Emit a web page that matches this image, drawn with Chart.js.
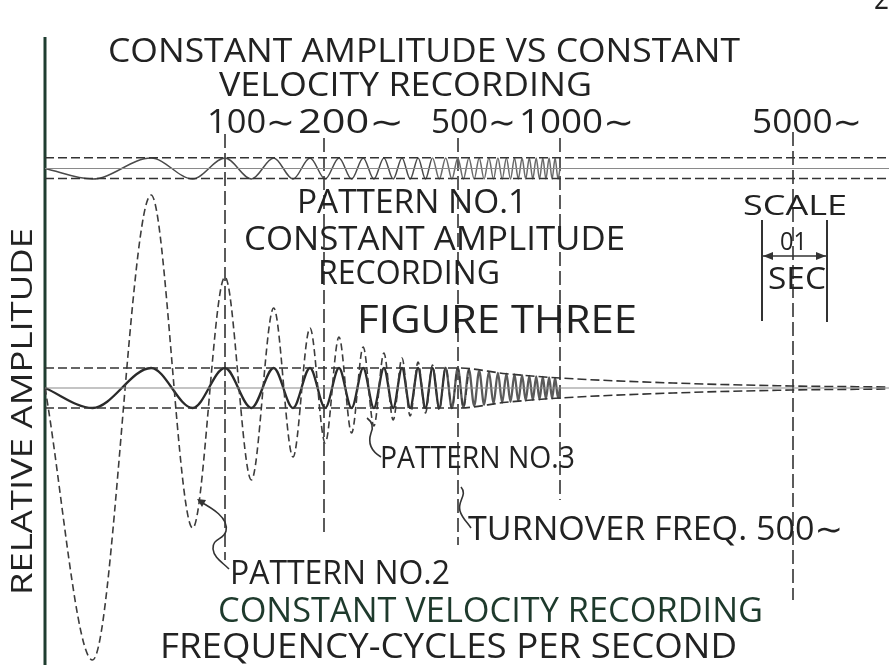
<!DOCTYPE html>
<html>
<head>
<meta charset="utf-8">
<script src="https://cdn.jsdelivr.net/npm/chart.js@4.4.1/dist/chart.umd.min.js"></script>
<style>
body { margin: 0; background: #fff; }
#wrap { width: 889px; height: 665px; }
</style>
</head>
<body>
<div id="wrap"><canvas id="chart1" width="889" height="665"></canvas></div>
<script>
// frequency marks along the sweep
var freqLabels = ["100∼", "200∼", "500∼", "1000∼", "5000∼"];
var markTimes = [225, 324, 458, 560, 793];

// peaks and troughs of the sweep (first one is a trough)
var sweepTimes = [
    92.5, 151.1, 192.7, 225, 251.4, 273.7, 293.0, 310.0, 325.2, 339.0,
    351.6, 363.2, 373.9, 383.9, 393.2, 402.0, 410.2, 418.1, 425.5, 432.5,
    439.3, 445.7, 451.9, 457.8, 463.4, 468.9, 474.2, 479.2, 484.1, 488.9,
    493.5, 497.9, 502.2, 506.4, 510.5, 514.5, 518.3, 522.1, 525.7, 529.3,
    532.8, 536.2, 539.5, 542.8, 545.9, 549.1, 552.1, 555.1, 558.0
];
// pattern 1 - constant amplitude
var ampPattern1 = 10.5;
// pattern 3 - constant amplitude up to the turnover, then falling off
var ampPattern3 = [
    20, 20, 20, 20, 20, 20, 20, 20, 20, 20,
    20, 20, 20, 20, 20, 20, 20, 20, 20, 20,
    20, 20, 20, 20, 19.2, 18.5, 17.9, 17.2, 16.7, 16.1,
    15.6, 15.2, 14.7, 14.3, 13.9, 13.5, 13.2, 12.8, 12.5, 12.2,
    11.9, 11.6, 11.4, 11.1, 10.9, 10.6, 10.4, 10.2, 10.0
];
// pattern 2 - constant velocity
var ampPattern2 = [
    272, 193, 140, 111, 92, 80, 69, 60, 55, 51,
    45, 41, 38, 35, 32, 30, 28, 26, 25, 23,
    22, 21, 20.5, 20, 19.2, 18.5
];
// envelope of pattern 3 above the turnover
var envTimes = [458, 506, 560, 673, 793, 889];
var envAmps = [20, 14.3, 10, 5, 2, 1];
// .01 sec scale
var scaleTimes = [762, 827];

// layout
var startT = 45;
var endT = 889;
var base1 = 168.5;
var base2 = 388;
var markTop = [134, 138, 138, 138, 132];
var markBottom = [560, 535, 545, 500, 600];
var labelSpan = [[207, 295], [298, 404], [431, 516], [519, 634], [752, 862]];

function wave(base, amps, count, end) {
    var pts = [{x: startT, y: base}];
    for (var i = 0; i < count; i++) {
        var a = Array.isArray(amps) ? amps[i] : amps;
        pts.push({x: sweepTimes[i], y: i % 2 == 0 ? base + a : base - a});
    }
    if (end) pts.push({x: end, y: base});
    return pts;
}
function hline(y, x0, x1) {
    return [{x: x0, y: y}, {x: x1, y: y}];
}
function vline(x, y0, y1) {
    return [{x: x, y: y0}, {x: x, y: y1}];
}
function envelope(sign) {
    var pts = [{x: startT, y: base2 + sign * envAmps[0]}];
    for (var i = 0; i < envTimes.length; i++) {
        pts.push({x: envTimes[i], y: base2 + sign * envAmps[i]});
    }
    return pts;
}
function ds(data, color, width, dash, smooth) {
    return {
        data: data,
        borderColor: color,
        borderWidth: width,
        borderDash: dash || [],
        cubicInterpolationMode: smooth ? "monotone" : "default",
        tension: 0,
        pointRadius: 0,
        fill: false
    };
}
// the dense part of the traces prints lighter
function fade(dark, light, from) {
    return {
        borderColor: function(c) {
            return c.p0.parsed.x > from ? light : dark;
        }
    };
}

var trace1 = ds(wave(base1, ampPattern1, sweepTimes.length, 560), "#505050", 1.5, null, true);
trace1.segment = fade("#4a4a4a", "#6a6a6a", 430);
var trace3 = ds(wave(base2, ampPattern3, sweepTimes.length, 560), "#2a2a2a", 2.3, null, true);
trace3.segment = fade("#2a2a2a", "#5a5a5a", 445);

var datasets = [
    ds(hline(base1, startT, endT), "#8a8a8a", 1.2),
    ds(hline(base1 - 10.8, startT, endT), "#333", 1.5, [9, 4]),
    ds(hline(base1 + 10, startT, endT), "#333", 1.5, [9, 4]),
    ds(hline(base2, startT, endT), "#8a8a8a", 1.2),
    ds(envelope(-1), "#333", 1.6, [9, 4], true),
    ds(envelope(1), "#333", 1.6, [9, 4], true),
    trace1,
    ds(wave(base2, ampPattern2, ampPattern2.length), "#3c3c3c", 1.6, [7, 4], true),
    trace3
];
for (var m = 0; m < markTimes.length; m++) {
    datasets.push(ds(vline(markTimes[m], markTop[m], markBottom[m]), "#333", 1.6, [14, 5]));
}
datasets.push(ds(vline(scaleTimes[0], 220, 321), "#333", 2));
datasets.push(ds(vline(scaleTimes[1], 220, 322), "#333", 2));
datasets.push(ds(hline(256, scaleTimes[0], scaleTimes[1]), "#333", 1.5));
datasets.push(ds(vline(startT, 37, 665), "#1f3d30", 3));

var texts = [
    ["CONSTANT AMPLITUDE VS CONSTANT", 108, 740, 62, 24],
    ["VELOCITY RECORDING", 219, 592, 96, 24],
    ["PATTERN NO.1", 297, 527, 213, 23],
    ["CONSTANT AMPLITUDE", 244, 625, 250, 24],
    ["RECORDING", 318, 500, 284, 24],
    ["FIGURE THREE", 357, 637, 333, 28],
    ["SCALE", 743, 847, 215, 20],
    ["01", 780, 807, 250, 18],
    ["SEC", 768, 826, 289, 22],
    ["PATTERN NO.3", 380, 575, 468, 22],
    ["TURNOVER FREQ. 500∼", 468, 843, 540, 23],
    ["PATTERN NO.2", 230, 450, 584, 23],
    ["CONSTANT VELOCITY RECORDING", 218, 763, 622, 25, "#1e3a2c"],
    ["FREQUENCY-CYCLES PER SECOND", 160, 737, 658, 25],
    ["2", 874, 889, 9, 22]
];

function letter(ctx, text, x0, x1, base, cap, color) {
    ctx.font = "400 " + (cap / 0.72) + "px 'Open Sans', 'DejaVu Sans', sans-serif";
    var w = ctx.measureText(text).width;
    ctx.save();
    ctx.translate(x0, base);
    ctx.scale((x1 - x0) / w, 1);
    ctx.fillStyle = color || "#222";
    ctx.fillText(text, 0, 0);
    ctx.restore();
}

var lettering = {
    id: "lettering",
    beforeDraw: function(chart) {
        var ctx = chart.ctx;
        ctx.save();
        ctx.fillStyle = "#fff";
        ctx.fillRect(0, 0, chart.width, chart.height);
        ctx.restore();
    },
    afterDraw: function(chart) {
        var ctx = chart.ctx;
        var xs = chart.scales.x;
        ctx.save();
        for (var i = 0; i < texts.length; i++) {
            var t = texts[i];
            letter(ctx, t[0], t[1], t[2], t[3], t[4], t[5]);
        }
        for (var j = 0; j < freqLabels.length; j++) {
            letter(ctx, freqLabels[j], labelSpan[j][0], labelSpan[j][1], 133, 23);
        }
        // side title
        ctx.save();
        ctx.translate(32, 595);
        ctx.rotate(-Math.PI / 2);
        letter(ctx, "RELATIVE AMPLITUDE", 0, 367, 0, 21);
        ctx.restore();

        // scale arrowheads
        var a0 = xs.getPixelForValue(scaleTimes[0]) + 1;
        var a1 = xs.getPixelForValue(scaleTimes[1]) - 1;
        ctx.fillStyle = "#333";
        ctx.beginPath();
        ctx.moveTo(a0, 256); ctx.lineTo(a0 + 10, 252); ctx.lineTo(a0 + 10, 260); ctx.closePath();
        ctx.moveTo(a1, 256); ctx.lineTo(a1 - 10, 252); ctx.lineTo(a1 - 10, 260); ctx.closePath();
        ctx.fill();

        // leader hooks
        ctx.strokeStyle = "#333";
        ctx.lineWidth = 1.6;
        ctx.beginPath();
        ctx.moveTo(199, 501);
        ctx.bezierCurveTo(212, 508, 229, 518, 226, 531);
        ctx.bezierCurveTo(224, 540, 212, 538, 213, 549);
        ctx.bezierCurveTo(214, 558, 222, 562, 229, 569);
        ctx.stroke();
        ctx.beginPath();
        ctx.moveTo(197, 499); ctx.lineTo(206, 500); ctx.lineTo(202, 507); ctx.closePath();
        ctx.fill();

        ctx.beginPath();
        ctx.moveTo(381, 457);
        ctx.quadraticCurveTo(366, 448, 371, 433);
        ctx.quadraticCurveTo(375, 424, 367, 418);
        ctx.stroke();

        ctx.beginPath();
        ctx.moveTo(461, 487);
        ctx.bezierCurveTo(468, 495, 457, 501, 460, 511);
        ctx.bezierCurveTo(462, 518, 467, 522, 471, 528);
        ctx.stroke();
        ctx.restore();
    }
};

new Chart("chart1", {
    type: "line",
    data: {
        datasets: datasets
    },
    options: {
        responsive: false,
        animation: false,
        layout: {
            padding: 0
        },
        plugins: {
            legend: {
                display: false
            },
            tooltip: {
                enabled: false
            }
        },
        scales: {
            x: {
                type: "linear",
                min: 0,
                max: 889,
                display: false
            },
            y: {
                type: "linear",
                min: 0,
                max: 665,
                reverse: true,
                display: false
            }
        }
    },
    plugins: [lettering]
});
</script>
</body>
</html>
